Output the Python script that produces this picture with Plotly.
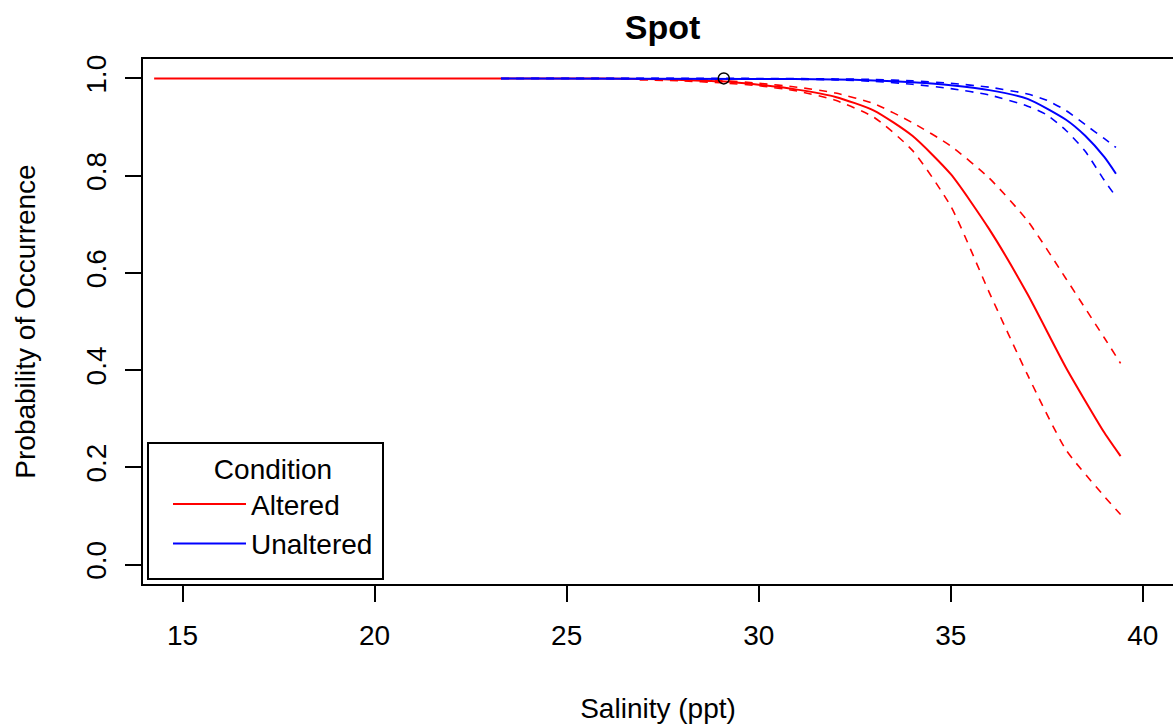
import plotly.graph_objects as go

# ---- data ----
alt_x = [14.26, 20.0, 25.0, 27.0, 28.0, 29.0, 30.0, 31.0, 32.0, 33.0, 34.0, 35.0, 36.0, 37.0, 38.0, 39.0, 39.42]
alt_fit = [1.000, 1.000, 1.000, 0.999, 0.997, 0.994, 0.987, 0.977, 0.962, 0.934, 0.882, 0.803, 0.690, 0.556, 0.405, 0.271, 0.223]

alt_ci_x = [26.9, 28.0, 29.0, 30.0, 31.0, 32.0, 33.0, 34.0, 35.0, 36.0, 37.0, 38.0, 39.0, 39.42]
alt_upper = [0.999, 0.998, 0.996, 0.990, 0.982, 0.970, 0.948, 0.909, 0.861, 0.795, 0.707, 0.588, 0.466, 0.414]
alt_lower = [0.997, 0.995, 0.991, 0.985, 0.974, 0.955, 0.920, 0.852, 0.737, 0.560, 0.390, 0.236, 0.140, 0.103]

unalt_x = [23.29, 30.0, 32.0, 33.0, 34.0, 35.0, 36.0, 37.0, 38.0, 38.5, 39.0, 39.3]
unalt_fit = [1.000, 0.999, 0.998, 0.996, 0.992, 0.986, 0.976, 0.958, 0.915, 0.882, 0.838, 0.804]
unalt_ci_x = [23.29, 30.0, 32.0, 33.0, 34.0, 35.0, 36.0, 37.0, 37.5, 38.0, 38.5, 39.0, 39.3]
unalt_upper = [1.000, 1.000, 0.999, 0.998, 0.995, 0.990, 0.982, 0.968, 0.955, 0.934, 0.905, 0.876, 0.858]
unalt_lower = [1.000, 0.999, 0.997, 0.994, 0.988, 0.979, 0.966, 0.943, 0.925, 0.893, 0.850, 0.790, 0.757]

point_x = [29.09]
point_y = [1.0]

x_ticks = [15, 20, 25, 30, 35, 40]
y_ticks = [0.0, 0.2, 0.4, 0.6, 0.8, 1.0]
y_tick_labels = ["0.0", "0.2", "0.4", "0.6", "0.8", "1.0"]

RED = "#FF0000"
BLUE = "#0000FF"
FONT = "Liberation Sans, Arial, sans-serif"
DASH = "8px,7px"
SM = 0.6

fig = go.Figure()
fig.add_trace(go.Scatter(x=alt_x, y=alt_fit, mode="lines", name="Altered",
                         line=dict(color=RED, width=2, shape="spline", smoothing=SM), legendgroup="a"))
fig.add_trace(go.Scatter(x=alt_ci_x, y=alt_upper, mode="lines", showlegend=False,
                         line=dict(color=RED, width=1.6, dash=DASH, shape="spline", smoothing=SM), legendgroup="a"))
fig.add_trace(go.Scatter(x=alt_ci_x, y=alt_lower, mode="lines", showlegend=False,
                         line=dict(color=RED, width=1.6, dash=DASH, shape="spline", smoothing=SM), legendgroup="a"))
fig.add_trace(go.Scatter(x=unalt_x, y=unalt_fit, mode="lines", name="Unaltered",
                         line=dict(color=BLUE, width=2, shape="spline", smoothing=SM), legendgroup="u"))
fig.add_trace(go.Scatter(x=unalt_ci_x, y=unalt_upper, mode="lines", showlegend=False,
                         line=dict(color=BLUE, width=1.6, dash=DASH, shape="spline", smoothing=SM), legendgroup="u"))
fig.add_trace(go.Scatter(x=unalt_ci_x, y=unalt_lower, mode="lines", showlegend=False,
                         line=dict(color=BLUE, width=1.6, dash=DASH, shape="spline", smoothing=SM), legendgroup="u"))
fig.add_trace(go.Scatter(x=point_x, y=point_y, mode="markers", showlegend=False,
                         marker=dict(symbol="circle-open", size=11, color="black",
                                     line=dict(width=1.5, color="black"))))

W, H = 1173, 725
L, R, T, B = 143, 0, 59, 141
PW, PH = W - L - R, H - T - B

fig.update_layout(
    width=W, height=H,
    margin=dict(l=L, r=R, t=T, b=B, autoexpand=False),
    paper_bgcolor="white", plot_bgcolor="white",
    font=dict(family=FONT, size=28, color="black"),
    title=dict(text="<b>Spot</b>", font=dict(size=34, family=FONT, color="black"),
               xref="container", yref="container", x=662.5 / W, y=1 - 27 / H,
               xanchor="center", yanchor="middle"),
    xaxis=dict(range=[13.97, 40.785], tickvals=x_ticks, ticks="outside", ticklen=16,
               tickwidth=1.5, tickcolor="black", showline=True, linecolor="black",
               linewidth=1.5, mirror=True, showgrid=False, zeroline=False,
               ticklabelstandoff=10, tickfont=dict(size=28),
               title=dict(text="Salinity (ppt)", font=dict(size=28), standoff=48)),
    yaxis=dict(range=[-0.04, 1.04], tickvals=y_ticks, ticktext=y_tick_labels,
               ticks="outside", ticklen=16, tickwidth=1.5, tickcolor="black",
               showline=True, linecolor="black", linewidth=1.5, mirror=False,
               showgrid=False, zeroline=False, tickangle=-90, ticklabelstandoff=8,
               tickfont=dict(size=28),
               title=dict(text="Probability of Occurrence", font=dict(size=28), standoff=37)),
    legend=dict(x=(168 - L) / PW, y=(584 - 443) / PH,
                xanchor="left", yanchor="top", bgcolor="rgba(0,0,0,0)",
                borderwidth=0, font=dict(size=28), itemwidth=73,
                title=dict(text="Condition", side="top center", font=dict(size=28)),
                tracegroupgap=0),
    shapes=[dict(type="rect", xref="paper", yref="paper",
                 x0=(148 - L) / PW, x1=(383 - L) / PW,
                 y0=(584 - 579) / PH, y1=(584 - 443) / PH,
                 line=dict(color="black", width=2), fillcolor="white", layer="below")],
)

fig.write_html("out.html")
